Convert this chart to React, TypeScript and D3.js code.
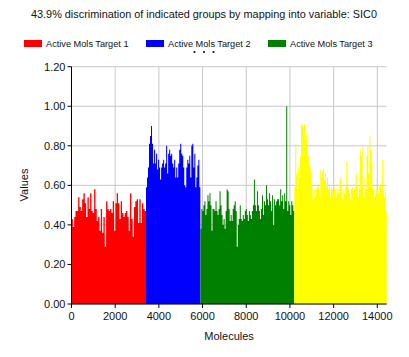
import React from "react";
import * as d3 from "d3";

const title = "43.9% discrimination of indicated groups by mapping into variable: SIC0";
const seriesNames = ["Active Mols Target 1", "Active Mols Target 2", "Active Mols Target 3", "Active Mols Target 4"];
const seriesColors = ["#ff0000", "#0000ff", "#008000", "#ffff00"];
const groupStarts = [0, 3410, 5900, 10200];
const groupEnds = [3410, 5900, 10200, 14430];

const red = [0.43, 0.39, 0.44, 0.47, 0.47, 0.54, 0.49, 0.47, 0.53, 0.56, 0.51, 0.44, 0.54, 0.48, 0.56, 0.47, 0.46, 0.58, 0.48, 0.42, 0.44, 0.37, 0.48, 0.36, 0.44, 0.29, 0.52, 0.48, 0.47, 0.48, 0.46, 0.52, 0.37, 0.51, 0.56, 0.51, 0.43, 0.52, 0.46, 0.44, 0.46, 0.47, 0.44, 0.37, 0.56, 0.43, 0.34, 0.49, 0.52, 0.53, 0.41, 0.53, 0.41, 0.51, 0.48, 0.47];
const blue = [0.59, 0.64, 0.69, 0.81, 0.85, 0.90, 0.81, 0.71, 0.78, 0.71, 0.76, 0.68, 0.73, 0.69, 0.63, 0.69, 0.71, 0.73, 0.69, 0.71, 0.80, 0.66, 0.76, 0.78, 0.75, 0.76, 0.71, 0.69, 0.73, 0.64, 0.69, 0.64, 0.71, 0.78, 0.81, 0.76, 0.75, 0.69, 0.60, 0.59, 0.69, 0.73, 0.71, 0.75, 0.64, 0.80, 0.81, 0.69, 0.76, 0.59, 0.64, 0.70, 0.73, 0.59];
const green = [0.38, 0.48, 0.47, 0.50, 0.52, 0.45, 0.48, 0.55, 0.52, 0.56, 0.50, 0.37, 0.48, 0.48, 0.47, 0.52, 0.47, 0.45, 0.48, 0.57, 0.50, 0.45, 0.40, 0.43, 0.38, 0.47, 0.58, 0.57, 0.48, 0.42, 0.45, 0.42, 0.48, 0.50, 0.52, 0.47, 0.29, 0.40, 0.43, 0.50, 0.43, 0.42, 0.45, 0.43, 0.47, 0.48, 0.45, 0.42, 0.47, 0.45, 0.43, 0.47, 0.50, 0.63, 0.50, 0.47, 0.57, 0.50, 0.47, 0.43, 0.48, 0.55, 0.45, 0.52, 0.50, 0.60, 0.53, 0.50, 0.56, 0.52, 0.47, 0.55, 0.40, 0.53, 0.50, 0.52, 0.53, 0.53, 0.50, 0.58, 0.52, 0.55, 0.48, 0.56, 0.52, 1.00, 0.47, 0.52, 0.50, 0.45, 0.52, 0.50, 0.47];
const yellow = [0.59, 0.81, 0.66, 0.58, 0.69, 0.64, 0.75, 0.91, 0.90, 0.85, 0.91, 0.83, 0.86, 0.80, 0.75, 0.71, 0.69, 0.66, 0.59, 0.53, 0.58, 0.54, 0.59, 0.58, 0.61, 0.58, 0.54, 0.68, 0.64, 0.67, 0.68, 0.63, 0.66, 0.59, 0.64, 0.58, 0.61, 0.54, 0.59, 0.58, 0.56, 0.59, 0.58, 0.54, 0.59, 0.56, 0.58, 0.64, 0.63, 0.58, 0.53, 0.58, 0.56, 0.59, 0.72, 0.61, 0.58, 0.56, 0.53, 0.58, 0.59, 0.54, 0.58, 0.61, 0.66, 0.58, 0.54, 0.58, 0.78, 0.75, 0.79, 0.59, 0.54, 0.64, 0.58, 0.75, 0.80, 0.66, 0.85, 0.78, 0.71, 0.59, 0.58, 0.54, 0.56, 0.59, 0.58, 0.56, 0.59, 0.61, 0.58, 0.73, 0.58, 0.54, 0.58, 0.47];
const groupValues = [red, blue, green, yellow];

const xTicks = [0, 2000, 4000, 6000, 8000, 10000, 12000, 14000];
const yTicks = [0, 0.2, 0.4, 0.6, 0.8, 1.0, 1.2];
const xLabel = "Molecules";
const yLabel = "Values";

const W = 409, H = 357;
const left = 71.5, right = 386.7, top = 66.7, bottom = 304;
const font = "'Liberation Sans', Arial, sans-serif";

export default function App() {
  const x = d3.scaleLinear().domain([0, 14430]).range([left, right]);
  const y = d3.scaleLinear().domain([0, 1.2]).range([bottom, top]);

  const areas = groupValues.map((vals, g) => {
    const s = groupStarts[g], e = groupEnds[g];
    const step = (e - s) / vals.length;
    const pts = vals.map((v, i) => ({ m: s + i * step, v }));
    pts.push({ m: e, v: vals[vals.length - 1] });
    const gen = d3.area<{ m: number; v: number }>()
      .x(d => x(d.m)).y0(y(0)).y1(d => y(d.v)).curve(d3.curveStepAfter);
    return gen(pts) || "";
  });

  const legendX = [24, 146, 268];

  return (
    <svg width={W} height={H} style={{ position: "absolute", left: 0, top: 0, background: "#fff" }}
      fontFamily={font}>
      <rect x={0} y={0} width={W} height={H} fill="#fff" />
      <text x={204} y={18} textAnchor="middle" fontSize={11} fill="#111" textLength={346} lengthAdjust="spacingAndGlyphs">{title}</text>
      {legendX.map((lx, i) => (
        <g key={i}>
          <rect x={lx} y={40} width={18} height={7} fill={seriesColors[i]} />
          <text x={lx + 22} y={47} fontSize={9.2} fill="#111">{seriesNames[i]}</text>
        </g>
      ))}
      {[-9.5, 0, 9.5].map((dx, i) => (
        <circle key={i} cx={204 + dx} cy={52} r={1.1} fill="#111" />
      ))}
      {yTicks.map(t => (
        <line key={"gy" + t} x1={left} x2={right} y1={y(t)} y2={y(t)} stroke="#c8c8c8" strokeWidth={1} />
      ))}
      {xTicks.map(t => (
        <line key={"gx" + t} x1={x(t)} x2={x(t)} y1={top} y2={bottom} stroke="#c8c8c8" strokeWidth={1} />
      ))}
      {areas.map((d, i) => (
        <path key={i} d={d} fill={seriesColors[i]} />
      ))}
      <line x1={left} x2={left} y1={top} y2={bottom} stroke="#000" />
      <line x1={left} x2={right} y1={bottom} y2={bottom} stroke="#000" />
      {yTicks.map(t => (
        <g key={"ty" + t}>
          <line x1={left - 4} x2={left} y1={y(t)} y2={y(t)} stroke="#000" />
          <text x={left - 6} y={y(t) + 4} textAnchor="end" fontSize={11} fill="#111">{t.toFixed(2)}</text>
        </g>
      ))}
      {xTicks.map(t => (
        <g key={"tx" + t}>
          <line x1={x(t)} x2={x(t)} y1={bottom} y2={bottom + 4} stroke="#000" />
          <text x={x(t)} y={bottom + 16} textAnchor="middle" fontSize={11} fill="#111">{t}</text>
        </g>
      ))}
      <text x={(left + right) / 2 + 0} y={340} textAnchor="middle" fontSize={11} fill="#111">{xLabel}</text>
      <text transform={`translate(28,185) rotate(-90)`} textAnchor="middle" fontSize={11} fill="#111">{yLabel}</text>
    </svg>
  );
}
